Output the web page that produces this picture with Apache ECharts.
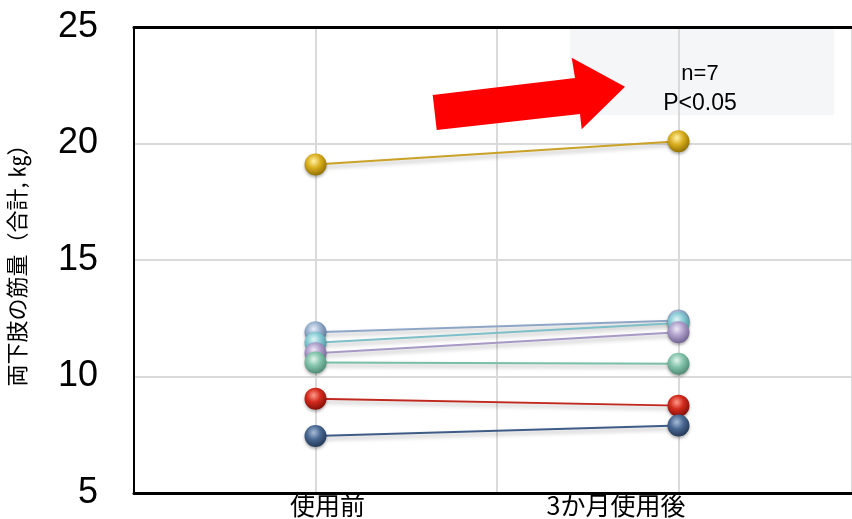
<!DOCTYPE html>
<html>
<head>
<meta charset="utf-8">
<script src="https://cdn.jsdelivr.net/npm/echarts@6/dist/echarts.min.js"></script>
<style>
  html, body { margin: 0; padding: 0; background: #fff; }
  #main { width: 852px; height: 519px; }
</style>
</head>
<body>
<div id="main"></div>
<script>
// x positions: 1 = 使用前, 3 = 3か月使用後
var categories = ["使用前", "3か月使用後"];
var catPos = [1, 3];
var yTicks = [5, 10, 15, 20, 25];

// one pair per subject (before, after)
var subjGold = [19.1, 20.1];
var subjSteel = [11.9, 12.4];
var subjCyan = [11.45, 12.3];
var subjLavender = [11.0, 11.9];
var subjGreen = [10.6, 10.55];
var subjRed = [9.05, 8.75];
var subjNavy = [7.45, 7.9];

var subjects = [
  { vals: subjGold, line: "#C9A227", c1: "#FFF2A8", c2: "#D9AE1E", c3: "#8A6A00" },
  { vals: subjSteel, line: "#8EA6C6", c1: "#E6EEF8", c2: "#98B0CE", c3: "#56708F" },
  { vals: subjCyan, line: "#7DBFC8", c1: "#E0F6F8", c2: "#86CAD3", c3: "#4B8A93" },
  { vals: subjLavender, line: "#A798C6", c1: "#EEE8F6", c2: "#AE9FCB", c3: "#6B5D8A" },
  { vals: subjGreen, line: "#7BBEA6", c1: "#E0F4EC", c2: "#82C2AB", c3: "#4A8570" },
  { vals: subjRed, line: "#C0281E", c1: "#FF9A8A", c2: "#D22A1C", c3: "#7A0E08" },
  { vals: subjNavy, line: "#3F5C86", c1: "#A8BCD8", c2: "#4A6893", c3: "#1E3350" }
];

var chart = echarts.init(document.getElementById("main"));

var series = subjects.map(function (s) {
  return {
    type: "line",
    data: catPos.map(function (x, i) { return [x, s.vals[i]]; }),
    symbol: "circle",
    symbolSize: 22,
    lineStyle: {
      color: s.line,
      width: 2,
      shadowBlur: 4,
      shadowColor: "rgba(0,0,0,0.3)",
      shadowOffsetY: 3
    },
    itemStyle: {
      color: {
        type: "radial", x: 0.42, y: 0.35, r: 0.7,
        colorStops: [
          { offset: 0, color: s.c1 },
          { offset: 0.45, color: s.c2 },
          { offset: 1, color: s.c3 }
        ]
      },
      shadowBlur: 3,
      shadowColor: "rgba(0,0,0,0.3)",
      shadowOffsetY: 2
    },
    emphasis: { disabled: true },
    z: 5
  };
});

chart.setOption({
  animation: false,
  grid: { left: 134, right: 0, top: 27, bottom: 26, outerBoundsMode: "none" },
  xAxis: [
    {
      type: "value",
      min: 0,
      max: 3.956,
      interval: 1,
      axisLine: { lineStyle: { color: "#000", width: 3 } },
      axisTick: { show: false },
      axisLabel: {
        color: "#000",
        fontSize: 25,
        fontFamily: "Noto Sans CJK JP",
        margin: 0,
        showMaxLabel: false,
        formatter: function (v) {
          var i = catPos.indexOf(v);
          return i === 0 ? "{a|" + categories[0] + "}" : i === 1 ? "{b|" + categories[1] + "}" : "";
        },
        rich: {
          a: { fontSize: 25, fontFamily: "Noto Sans CJK JP", color: "#000", padding: [0, 0, 0, 24] },
          b: { fontSize: 25, fontFamily: "Noto Sans CJK JP", color: "#000", padding: [0, 125, 0, 0] }
        }
      },
      splitLine: { show: true, lineStyle: { color: "#DADADA", width: 2 } }
    },
    {
      type: "value",
      position: "top",
      min: 0,
      max: 3.956,
      axisLine: { onZero: false, lineStyle: { color: "#000", width: 3 } },
      axisTick: { show: false },
      axisLabel: { show: false },
      splitLine: { show: false }
    }
  ],
  yAxis: {
    type: "value",
    min: yTicks[0],
    max: yTicks[yTicks.length - 1],
    interval: 5,
    name: "両下肢の筋量（合計, ㎏）",
    nameLocation: "middle",
    nameRotate: 90,
    nameGap: 106,
    nameTextStyle: { color: "#000", fontSize: 22, fontFamily: "Noto Sans CJK JP" },
    axisLine: { show: true, lineStyle: { color: "#000", width: 2 } },
    axisTick: { show: false },
    axisLabel: { color: "#000", fontSize: 36, fontFamily: "Liberation Sans", margin: 36 },
    splitLine: { lineStyle: { color: "#DADADA", width: 2 } }
  },
  graphic: [
    {
      type: "rect",
      shape: { x: 570, y: 28, width: 264, height: 87 },
      style: { fill: "#F5F6F8" },
      z: -10
    },
    {
      type: "polygon",
      shape: {
        points: [[432.7, 95], [575, 78], [571.7, 57.7], [625, 86.7], [581.7, 129.3], [580, 114], [436.7, 130]]
      },
      style: { fill: "#FF0000" },
      z: 10
    },
    {
      type: "text",
      x: 700, y: 74,
      style: { text: "n=7", fill: "#000", font: "22px Liberation Sans", align: "center", verticalAlign: "middle" },
      z: 10
    },
    {
      type: "text",
      x: 700, y: 104,
      style: { text: "P<0.05", fill: "#000", font: "23px Liberation Sans", align: "center", verticalAlign: "middle" },
      z: 10
    }
  ],
  series: series
});
</script>
</body>
</html>
